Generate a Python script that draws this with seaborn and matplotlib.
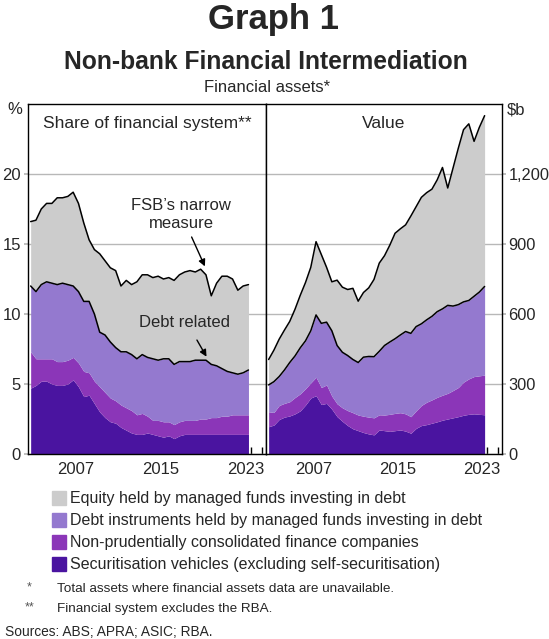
import numpy as np
import pandas as pd
import matplotlib
matplotlib.use('Agg')
import matplotlib.pyplot as plt
import seaborn as sns

# half-yearly observations
years = [2003.25 + 0.5 * i for i in range(42)]

# share of financial system, per cent
share_securitisation = [4.7, 4.9, 5.2, 5.2, 5.0, 4.9, 4.9, 5.0, 5.3, 4.8, 4.1, 4.2, 3.6, 3.0,
                        2.6, 2.3, 2.2, 1.9, 1.7, 1.5, 1.4, 1.4, 1.5, 1.4, 1.3, 1.2, 1.3, 1.1,
                        1.3, 1.4, 1.4, 1.4, 1.4, 1.4, 1.4, 1.4, 1.4, 1.4, 1.4, 1.4, 1.4, 1.4]
share_finance_cos = [2.6, 1.9, 1.6, 1.6, 1.8, 1.7, 1.7, 1.7, 1.6, 1.7, 1.8, 1.6, 1.6, 1.8,
                     1.8, 1.7, 1.6, 1.6, 1.6, 1.6, 1.4, 1.5, 1.2, 1.0, 1.1, 1.1, 1.0, 1.0,
                     1.0, 1.0, 1.0, 1.0, 1.1, 1.1, 1.2, 1.2, 1.3, 1.3, 1.4, 1.4, 1.4, 1.4]
share_debt_funds = [4.7, 4.8, 5.3, 5.5, 5.4, 5.5, 5.6, 5.4, 5.1, 5.1, 5.0, 5.1, 4.8, 3.9,
                    4.1, 4.0, 3.8, 3.8, 4.0, 4.0, 4.0, 4.2, 4.2, 4.4, 4.3, 4.5, 4.5, 4.3,
                    4.3, 4.2, 4.2, 4.3, 4.2, 4.2, 3.8, 3.7, 3.4, 3.2, 3.0, 2.9, 3.0, 3.2]
share_equity_funds = [4.6, 5.1, 5.4, 5.6, 5.7, 6.2, 6.1, 6.3, 6.7, 6.3, 5.6, 4.4, 4.6, 5.6,
                      5.3, 5.3, 5.5, 4.7, 5.1, 5.0, 5.5, 5.7, 5.9, 5.8, 6.0, 5.7, 5.8, 6.0,
                      6.2, 6.4, 6.5, 6.3, 6.5, 6.1, 4.9, 5.9, 6.6, 6.8, 6.7, 6.0, 6.2, 6.1]

# value, $ billion
value_securitisation = [117, 124, 148, 158, 163, 172, 185, 210, 240, 250, 212, 217, 192, 160,
                        140, 122, 108, 100, 92, 86, 82, 103, 100, 97, 100, 103, 98, 89,
                        110, 122, 126, 132, 138, 145, 150, 155, 160, 166, 170, 172, 170, 168]
value_finance_cos = [64, 54, 60, 59, 61, 70, 73, 70, 65, 79, 73, 79, 56, 55,
                     58, 64, 69, 67, 70, 72, 73, 65, 67, 73, 74, 74, 74, 71,
                     75, 86, 96, 100, 105, 107, 110, 117, 125, 142, 152, 160, 165, 170]
value_debt_funds = [115, 132, 124, 143, 168, 178, 197, 205, 223, 267, 275, 269, 280, 250,
                    238, 236, 228, 225, 253, 260, 262, 272, 298, 310, 320, 333, 353, 357,
                    361, 350, 353, 358, 367, 370, 377, 362, 355, 344, 336, 344, 359, 380]
value_equity_funds = [109, 135, 160, 171, 176, 200, 225, 250, 272, 314, 295, 235, 210, 280,
                      279, 283, 305, 263, 277, 294, 331, 378, 385, 415, 452, 455, 457, 503,
                      514, 542, 545, 545, 565, 606, 503, 591, 670, 738, 757, 664, 706, 732]

series_names = [
    'Securitisation vehicles (excluding self-securitisation)',
    'Non-prudentially consolidated finance companies',
    'Debt instruments held by managed funds investing in debt',
    'Equity held by managed funds investing in debt',
]
colours = ['#4a14a0', '#8b36b8', '#9479cf', '#cccccc']

sns.set_theme(style='white')
plt.rcParams['font.family'] = ['Liberation Sans', 'DejaVu Sans']

fig = plt.figure(figsize=(5.49, 6.39), dpi=100)
W, H = 549, 639


def px_axes(x0, x1, y0, y1):
    return fig.add_axes([x0 / W, 1 - y1 / H, (x1 - x0) / W, (y1 - y0) / H])


ax_l = px_axes(28, 266, 104, 454)
ax_r = px_axes(266, 502, 104, 454)


def draw_panel(ax, parts):
    ax.stackplot(years, *parts, colors=colours, linewidth=0, zorder=2)
    stack = np.cumsum(np.array(parts), axis=0)
    df = pd.DataFrame({'year': years, 'debt': stack[2], 'total': stack[3]})
    sns.lineplot(data=df, x='year', y='debt', color='black', lw=1.1, ax=ax, zorder=3)
    sns.lineplot(data=df, x='year', y='total', color='black', lw=1.1, ax=ax, zorder=3)
    ax.set_xlim(2003, 2025.4)
    ax.set_xlabel('')
    ax.set_ylabel('')
    ax.set_xticks([2007.5, 2015.5, 2023.5])
    ax.set_xticklabels(['2007', '2015', '2023'])
    ax.set_xticks(range(2004, 2026), minor=True)
    ax.tick_params(axis='x', which='major', length=0, labelsize=12, pad=6)
    ax.tick_params(axis='x', which='minor', direction='in', length=5, width=1,
                   color='black', bottom=True)
    ax.grid(axis='y', color='#b8b8b8', lw=1, zorder=1)
    ax.set_axisbelow(True)
    for s in ax.spines.values():
        s.set_color('black')
        s.set_linewidth(1)


draw_panel(ax_l, [share_securitisation, share_finance_cos, share_debt_funds, share_equity_funds])
draw_panel(ax_r, [value_securitisation, value_finance_cos, value_debt_funds, value_equity_funds])

ax_l.set_ylim(0, 25)
ax_l.set_yticks([0, 5, 10, 15, 20])
ax_l.tick_params(axis='y', left=True, length=3, color='#b8b8b8', labelsize=12, pad=2)

ax_r.set_ylim(0, 1500)
ax_r.set_yticks([0, 300, 600, 900, 1200])
ax_r.set_yticklabels(['0', '300', '600', '900', '1,200'])
ax_r.yaxis.tick_right()
ax_r.tick_params(axis='y', right=True, left=False, length=3, color='#b8b8b8', labelsize=11.8, pad=1.5)

ax_l.text(0.5, 0.965, 'Share of financial system**', transform=ax_l.transAxes,
          ha='center', va='top', fontsize=12.5)
ax_r.text(0.5, 0.965, 'Value', transform=ax_r.transAxes,
          ha='center', va='top', fontsize=12.5)
fig.text(15 / W, 1 - 110 / H, '%', ha='center', va='center', fontsize=12)
fig.text(507 / W, 1 - 110 / H, '$b', ha='left', va='center', fontsize=12)

arrow = dict(arrowstyle='-|>', color='black', lw=1, mutation_scale=10, shrinkA=0, shrinkB=0)
ax_l.text(2017.4, 17.1, 'FSB\u2019s narrow\nmeasure', ha='center', va='center',
          fontsize=12, linespacing=1.25)
ax_l.annotate('', xy=(2019.65, 13.4), xytext=(2018.4, 15.5), arrowprops=arrow)
ax_l.text(2017.7, 9.36, 'Debt related', ha='center', va='center', fontsize=12)
ax_l.annotate('', xy=(2019.8, 6.95), xytext=(2018.9, 8.14), arrowprops=arrow)

fig.text(274 / W, 1 - 20 / H, 'Graph 1', ha='center', va='center', fontsize=25, fontweight='bold')
fig.text(266 / W, 1 - 62 / H, 'Non-bank Financial Intermediation', ha='center', va='center',
         fontsize=17.7, fontweight='bold')
fig.text(267 / W, 1 - 88 / H, 'Financial assets*', ha='center', va='center', fontsize=12)

# legend, top row is the top layer
for i, k in enumerate([3, 2, 1, 0]):
    yc = 498 + i * 22
    fig.patches.append(plt.Rectangle((52 / W, 1 - (yc + 7) / H), 14 / W, 14 / H,
                                     transform=fig.transFigure, color=colours[k]))
    fig.text(70 / W, 1 - yc / H, series_names[k], ha='left', va='center', fontsize=11.5)

fig.text(27 / W, 1 - 587 / H, '*', ha='left', va='center', fontsize=9, color='#555555')
fig.text(57 / W, 1 - 589 / H, 'Total assets where financial assets data are unavailable.',
         ha='left', va='center', fontsize=9.7)
fig.text(25 / W, 1 - 607 / H, '**', ha='left', va='center', fontsize=9, color='#555555')
fig.text(57 / W, 1 - 609 / H, 'Financial system excludes the RBA.',
         ha='left', va='center', fontsize=9.7)
fig.text(5 / W, 1 - 632 / H, 'Sources: ABS; APRA; ASIC; RBA.',
         ha='left', va='center', fontsize=9.9)

fig.savefig('out.png', dpi=100)
